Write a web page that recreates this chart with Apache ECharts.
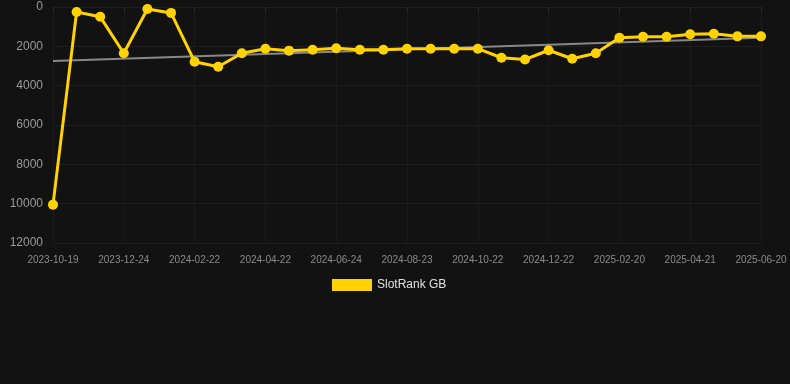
<!DOCTYPE html>
<html><head><meta charset="utf-8">
<script src="https://cdn.jsdelivr.net/npm/echarts@6/dist/echarts.min.js"></script>
<style>html,body{margin:0;padding:0;background:#121212;}#c{width:790px;height:384px;}</style>
</head><body><div id="c"></div>
<script>
const categories = ["2023-10-19","2023-11-10","2023-12-02","2023-12-24","2024-01-13","2024-02-02","2024-02-22","2024-03-13","2024-04-02","2024-04-22","2024-05-13","2024-06-03","2024-06-24","2024-07-14","2024-08-03","2024-08-23","2024-09-12","2024-10-02","2024-10-22","2024-11-11","2024-12-01","2024-12-22","2025-01-11","2025-01-31","2025-02-20","2025-03-12","2025-04-01","2025-04-21","2025-05-11","2025-05-31","2025-06-20"];
const rankGB = [10050,250,500,2350,100,300,2780,3035,2355,2120,2220,2170,2100,2170,2170,2120,2120,2120,2120,2580,2670,2200,2630,2350,1560,1510,1510,1390,1356,1493,1493];
const trendStart = 2750;
const trendEnd = 1560;
const yTicks = [0,2000,4000,6000,8000,10000,12000];

const chart = echarts.init(document.getElementById('c'));
chart.setOption({
  backgroundColor: '#121212',
  animation: false,
  grid: {left: 53, right: 29, top: 7, bottom: 141},
  legend: {
    data: ['SlotRank GB'], left: 327, top: 274, itemWidth: 40, itemHeight: 12, itemGap: 10,
    textStyle: {color: '#e0e0e0', fontSize: 12, fontFamily: 'Arial, Liberation Sans'},
    icon: 'rect'
  },
  xAxis: {
    type: 'category', data: categories, boundaryGap: false,
    axisLine: {show: false},
    axisTick: {show: true, alignWithLabel: true, interval: 2, lineStyle: {color: '#2a2a2a'}},
    axisLabel: {interval: 2, color: '#8a8a8a', fontSize: 10, margin: 12, fontFamily: 'Arial, Liberation Sans'},
    splitLine: {show: true, interval: 2, lineStyle: {color: '#1b1b1b'}}
  },
  yAxis: {
    type: 'value', inverse: true, min: yTicks[0], max: yTicks[yTicks.length-1], interval: 2000,
    axisLine: {show: false}, axisTick: {show: false},
    axisLabel: {color: '#9a9a9a', fontSize: 12, margin: 10, fontFamily: 'Arial, Liberation Sans', formatter: v => String(v)},
    splitLine: {lineStyle: {color: '#1e1e1e'}}
  },
  series: [
    {
      name: 'Trend', type: 'line', silent: true, symbol: 'none',
      data: [[categories[0], trendStart], [categories[categories.length-1], trendEnd]],
      lineStyle: {color: '#888', width: 2}, z: 1
    },
    {
      name: 'SlotRank GB', type: 'line', data: rankGB,
      symbol: 'circle', symbolSize: 10,
      itemStyle: {color: '#ffd200'},
      lineStyle: {color: '#ffd200', width: 3}, z: 2
    }
  ]
});
</script></body></html>
